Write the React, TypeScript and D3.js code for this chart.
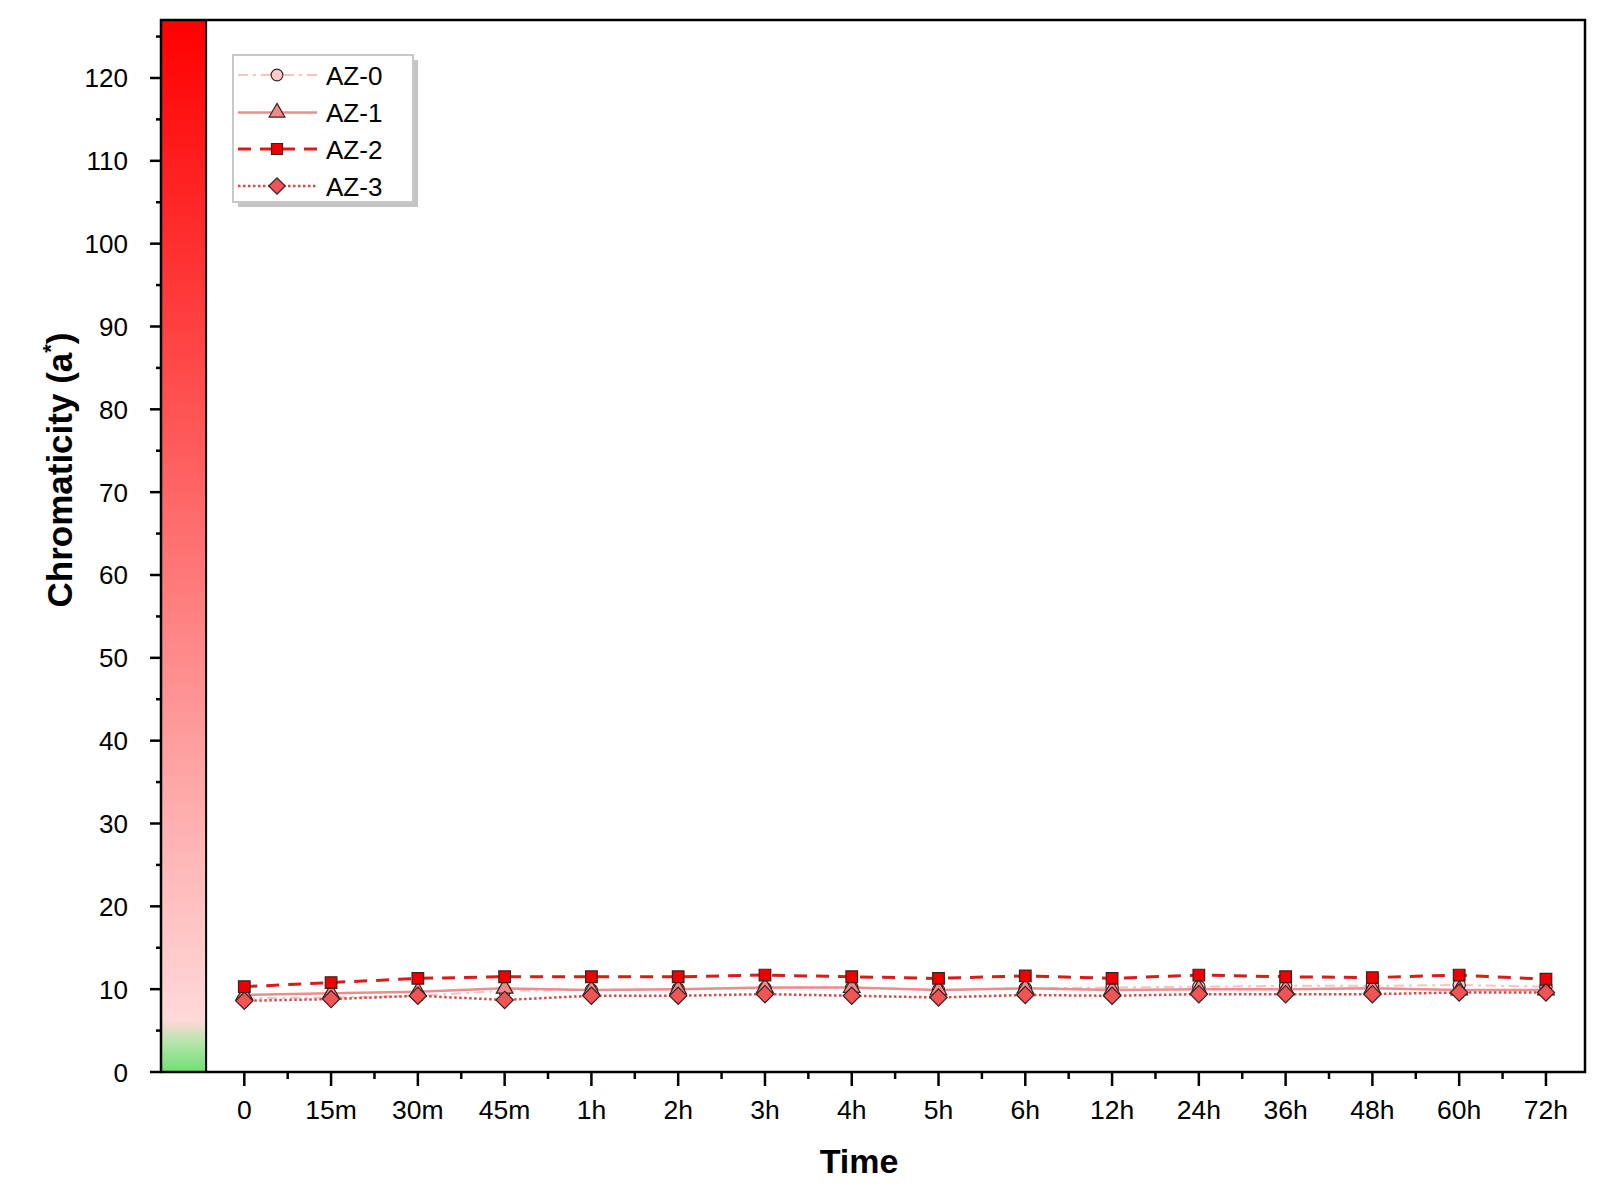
import * as React from "react";
import * as d3 from "d3";

const timeLabels = ["0", "15m", "30m", "45m", "1h", "2h", "3h", "4h", "5h", "6h", "12h", "24h", "36h", "48h", "60h", "72h"];

const seriesNames = ["AZ-0", "AZ-1", "AZ-2", "AZ-3"];

const az0 = [8.9, 9.0, 9.2, 9.8, 9.9, 10.0, 10.1, 10.2, 9.9, 10.1, 10.2, 10.3, 10.4, 10.4, 10.5, 10.3];
const az1 = [9.3, 9.5, 9.7, 10.1, 9.9, 10.0, 10.2, 10.2, 9.9, 10.1, 9.9, 10.0, 10.0, 10.1, 9.9, 9.9];
const az2 = [10.3, 10.8, 11.3, 11.5, 11.5, 11.5, 11.7, 11.5, 11.3, 11.6, 11.3, 11.7, 11.5, 11.4, 11.7, 11.2];
const az3 = [8.6, 8.8, 9.2, 8.7, 9.2, 9.2, 9.4, 9.2, 9.0, 9.3, 9.2, 9.4, 9.4, 9.4, 9.6, 9.6];

const yTicks = [0, 10, 20, 30, 40, 50, 60, 70, 80, 90, 100, 110, 120];

// colour bar stops: value -> colour
const barStops: [number, string][] = [
    [127, "#ff0000"],
    [90, "#ff4040"],
    [60, "#ff7878"],
    [30, "#ffb0b0"],
    [6.3, "#ffd8d8"],
    [5.2, "#e4dcc8"],
    [4, "#c0e4b4"],
    [2.5, "#9ee49a"],
    [0, "#70df70"],
];

interface SeriesStyle {
    stroke: string;
    width: number;
    dash: string;
    fill: string;
    symbol: d3.SymbolType;
    size: number;
    rotate: number;
}

const styles: SeriesStyle[] = [
    { stroke: "#f4c4c4", width: 2, dash: "10 5 3 5", fill: "#ffcaca", symbol: d3.symbolCircle, size: 120, rotate: 0 },
    { stroke: "#ec8c8c", width: 2.5, dash: "", fill: "#f08a8a", symbol: d3.symbolTriangle, size: 120, rotate: 0 },
    { stroke: "#dc1a1a", width: 3, dash: "13 9", fill: "#ee0000", symbol: d3.symbolSquare, size: 135, rotate: 0 },
    { stroke: "#d84848", width: 2.5, dash: "2.5 2.5", fill: "#f05454", symbol: d3.symbolSquare, size: 150, rotate: 45 },
];

const FONT = "Arial, 'Liberation Sans', sans-serif";

export default class App extends React.Component<{}, {}> {
    render() {
        const width = 1600;
        const height = 1204;
        const left = 161, right = 1585, top = 20, bottom = 1072;

        const seriesValues = [az0, az1, az2, az3];

        const xScale = d3.scaleLinear().domain([-0.96, 15.45]).range([left, right]);
        const yScale = d3.scaleLinear().domain([0, 127]).range([bottom, top]);

        const lineGenerator = d3.line<number>()
            .x((_d, i) => xScale(i))
            .y(d => yScale(d));

        const minorY = d3.range(5, 127, 10);
        const minorX = d3.range(0.5, 15, 1);

        const barRight = xScale(-0.44);

        const lines = seriesValues.map((vals, s) => {
            const st = styles[s];
            return <path key={"l" + s} d={lineGenerator(vals) || ""} fill="none" stroke={st.stroke}
                strokeWidth={st.width} strokeDasharray={st.dash || undefined} />;
        });

        const markers = seriesValues.map((vals, s) => {
            const st = styles[s];
            const sym = d3.symbol().type(st.symbol).size(st.size)();
            return <g key={"m" + s}>
                {vals.map((v, i) => <path key={i} d={sym || ""} transform={`translate(${xScale(i)},${yScale(v)}) rotate(${st.rotate})`}
                    fill={st.fill} stroke="#3a2020" strokeWidth={1.2} />)}
            </g>;
        });

        // legend
        const lgX = 233, lgY = 55, lgW = 180, lgH = 147;
        const rowY = [75, 112.5, 149, 186];
        const legendItems = seriesNames.map((name, s) => {
            const st = styles[s];
            const sym = d3.symbol().type(st.symbol).size(st.size * 0.9)();
            return <g key={name}>
                <line x1={238} x2={317} y1={rowY[s]} y2={rowY[s]} stroke={st.stroke} strokeWidth={st.width}
                    strokeDasharray={st.dash || undefined} />
                <path d={sym || ""} transform={`translate(277,${rowY[s]}) rotate(${st.rotate})`} fill={st.fill} stroke="#3a2020" strokeWidth={1.2} />
                <text x={326} y={rowY[s] + 9.5} fontSize={26} fontFamily={FONT} fill="#000">{name}</text>
            </g>;
        });

        return <svg width={width} height={height} style={{ position: "absolute", left: 0, top: 0, background: "#fff" }}>
            <defs>
                <linearGradient id="barGrad" gradientUnits="userSpaceOnUse" x1="0" x2="0" y1={top} y2={bottom}>
                    {barStops.map(([v, c], i) => (
                        <stop key={i} offset={`${((yScale(v) - top) / (bottom - top)) * 100}%`} stopColor={c} />
                    ))}
                </linearGradient>
            </defs>
            <rect x={0} y={0} width={width} height={height} fill="#fff" />

            {/* colour bar */}
            <rect x={left} y={top} width={barRight - left} height={bottom - top} fill="url(#barGrad)" />
            <line x1={barRight} x2={barRight} y1={top} y2={bottom} stroke="#000" strokeWidth={2} />

            {lines}
            {markers}

            {/* frame */}
            <rect x={left} y={top} width={right - left} height={bottom - top} fill="none" stroke="#000" strokeWidth={2.5} />

            {/* y ticks */}
            {yTicks.map(t => <g key={"yt" + t}>
                <line x1={left - 11} x2={left} y1={yScale(t)} y2={yScale(t)} stroke="#000" strokeWidth={2.5} />
                <text x={128} y={yScale(t) + 9.5} textAnchor="end" fontSize={26} fontFamily={FONT} fill="#000">{t}</text>
            </g>)}
            {minorY.map(t => <line key={"ym" + t} x1={left - 5} x2={left} y1={yScale(t)} y2={yScale(t)} stroke="#000" strokeWidth={2.5} />)}

            {/* x ticks */}
            {timeLabels.map((lab, i) => <g key={"xt" + i}>
                <line x1={xScale(i)} x2={xScale(i)} y1={bottom} y2={bottom + 14} stroke="#000" strokeWidth={2.5} />
                <text x={xScale(i)} y={1119} textAnchor="middle" fontSize={26.5} fontFamily={FONT} fill="#000">{lab}</text>
            </g>)}
            {minorX.map(t => <line key={"xm" + t} x1={xScale(t)} x2={xScale(t)} y1={bottom} y2={bottom + 7} stroke="#000" strokeWidth={2.5} />)}

            {/* axis titles */}
            <text x={859} y={1173} textAnchor="middle" fontSize={34} fontWeight="bold" fontFamily={FONT} fill="#000">Time</text>
            <text transform="translate(72,470) rotate(-90)" textAnchor="middle" fontSize={35} fontWeight="bold" fontFamily={FONT} fill="#000">
                Chromaticity (a<tspan fontSize={22} dy={-14}>*</tspan><tspan dy={14}>)</tspan>
            </text>

            {/* legend */}
            <rect x={lgX + 5} y={lgY + 5} width={lgW} height={lgH} fill="#c4c4c4" />
            <rect x={lgX} y={lgY} width={lgW} height={lgH} fill="#fff" stroke="#c8c8c8" strokeWidth={2} />
            {legendItems}
        </svg>
    }
}
